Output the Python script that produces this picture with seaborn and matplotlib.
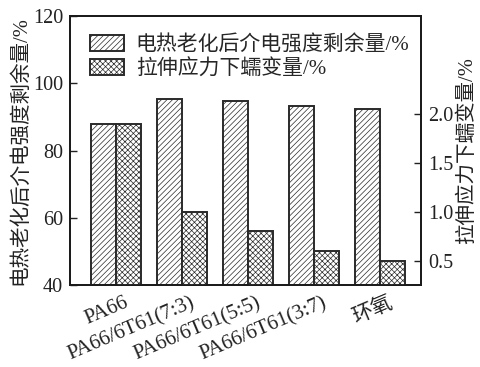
import matplotlib
matplotlib.use("Agg")
import matplotlib.pyplot as plt
import matplotlib.transforms as mtransforms
from matplotlib.patches import Patch
import pandas as pd
import seaborn as sns

# Materials and measured values
materials = ["PA66", "PA66/6T61(7:3)", "PA66/6T61(5:5)", "PA66/6T61(3:7)", "环氧"]
strength_retention = [87.8, 95.4, 94.9, 93.4, 92.4]   # left axis, %
creep = [1.90, 1.00, 0.80, 0.60, 0.50]               # right axis, %
series_names = ["电热老化后介电强度剩余量/%", "拉伸应力下蠕变量/%"]
left_ticks = [40, 60, 80, 100, 120]
right_ticks = [0.5, 1.0, 1.5, 2.0]

sns.set_style("ticks")
plt.rcParams["font.family"] = ["Liberation Serif", "Noto Sans CJK SC", "DejaVu Sans"]
plt.rcParams["hatch.linewidth"] = 0.5
plt.rcParams["axes.linewidth"] = 1.3

fig = plt.figure(figsize=(4.8, 3.67), dpi=100)
ax1 = fig.add_axes([0.146, 0.2234, 0.731, 0.7326])
ax2 = ax1.twinx()

df_left = pd.DataFrame({"材料": materials, "值": strength_retention, "系列": series_names[0]})
df_right = pd.DataFrame({"材料": materials, "值": creep, "系列": series_names[1]})
pal = {series_names[0]: "white", series_names[1]: "white"}
edge = "#2a2a2a"

sns.barplot(data=df_left, x="材料", y="值", hue="系列", hue_order=series_names,
            order=materials, palette=pal, dodge=True, width=0.76, edgecolor=edge,
            linewidth=1.4, legend=False, ax=ax1, errorbar=None)
sns.barplot(data=df_right, x="材料", y="值", hue="系列", hue_order=series_names,
            order=materials, palette=pal, dodge=True, width=0.76, edgecolor=edge,
            linewidth=1.4, legend=False, ax=ax2, errorbar=None)

for p in ax1.patches:
    p.set_hatch("//////")
for p in ax2.patches:
    p.set_hatch("xxxxxx")

for ax in (ax1, ax2):
    ax.set_xlim(-0.692, 4.626)
    for s in ax.spines.values():
        s.set_color("#1a1a1a")
        s.set_linewidth(1.3)

ax1.set_ylim(40, 120)
ax1.set_yticks(left_ticks)
ax2.set_ylim(0.25, 3.0)
ax2.set_yticks(right_ticks)
ax2.set_yticklabels([f"{t:.1f}" for t in right_ticks])

ax1.tick_params(axis="y", direction="in", length=5, width=1, labelsize=14.5, pad=5, colors="#222")
ax2.tick_params(axis="y", direction="in", length=5, width=1, labelsize=14.5, pad=5, colors="#222")
ax1.tick_params(axis="x", length=0, labelsize=15, pad=6, colors="#222")

ax1.set_xlabel("")
ax1.set_ylabel(series_names[0], fontsize=14.8, color="#222", labelpad=2)
ax2.set_ylabel(series_names[1], fontsize=14.8, color="#222")
ax2.yaxis.set_label_coords(1.104, 0.5)

ax1.set_xticks(range(len(materials)))
ax1.set_xticklabels(materials, rotation=23, ha="right", va="top", rotation_mode="anchor")
shift = mtransforms.ScaledTranslation(8 / 100, 0, fig.dpi_scale_trans)
for lbl in ax1.get_xticklabels():
    lbl.set_transform(lbl.get_transform() + shift)

handles = [Patch(facecolor="white", edgecolor=edge, hatch="//////", linewidth=1.4),
           Patch(facecolor="white", edgecolor=edge, hatch="xxxxxx", linewidth=1.4)]
ax1.legend(handles, series_names, loc="upper left", bbox_to_anchor=(0.015, 0.985),
           frameon=False, fontsize=15, handlelength=1.65, handleheight=0.8,
           handletextpad=0.55, labelspacing=0.2, borderaxespad=0.3)

fig.savefig("out.png", dpi=100)
